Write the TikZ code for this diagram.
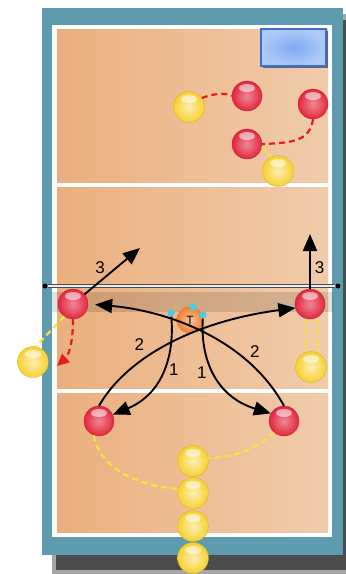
\documentclass[tikz,border=0pt]{standalone}
\usepackage{fontspec}
\setmainfont{Liberation Sans}
\usetikzlibrary{arrows.meta}

\definecolor{frameteal}{HTML}{5F9BAF}
\definecolor{courtleft}{HTML}{EBAF7E}
\definecolor{courtright}{HTML}{F0CCAC}
\definecolor{ballred}{HTML}{E3263E}
\definecolor{ballyellow}{HTML}{F7D02E}
\definecolor{dashyellow}{HTML}{F7E43A}
\definecolor{dashred}{HTML}{E81A1A}
\definecolor{setorange}{HTML}{EE7E2E}
\definecolor{dotcyan}{HTML}{3CD0EE}
\definecolor{boardblue}{HTML}{3D6CD6}
\definecolor{boardfill}{HTML}{B0CAF8}
\definecolor{boardmid}{HTML}{7EA8F2}

\begin{document}
\begin{tikzpicture}[x=1pt, y=-1pt,
    gloss/.style={path picture={\fill[white, opacity=0.55] ([yshift=8pt]path picture bounding box.center) ellipse (8pt and 4pt);}},
    redball/.style={circle, minimum size=30pt, inner sep=0pt, draw=ballred!80!black, line width=0.3pt,
      shading=radial, inner color=ballred!55!white, outer color=ballred, gloss},
    yellowball/.style={circle, minimum size=31pt, inner sep=0pt, draw=ballyellow!85!black, line width=0.3pt,
      shading=radial, inner color=ballyellow!35!white, outer color=ballyellow, gloss},
    cyandot/.style={circle, fill=dotcyan, minimum size=7pt, inner sep=0pt},
    netend/.style={circle, fill=black, minimum size=5pt, inner sep=0pt},
    runarrow/.style={line width=1.9pt, -{Triangle[length=17pt, width=14pt]}},
    reddash/.style={dashred, line width=2.2pt, dash pattern=on 6pt off 4pt},
    yellowdash/.style={dashyellow, line width=2.2pt, dash pattern=on 6pt off 4pt},
    lbl/.style={font=\fontsize{17}{19}\selectfont, inner sep=0pt}]
      \useasboundingbox[fill=white] (0,0) rectangle (346,574);

      % Court
      \fill[black!35] (52,14) rectangle (346,574);
      \fill[black!70] (56,20) rectangle (346,570);
      \fill[frameteal] (42,8) rectangle (343,555);
      \fill[white] (52,25) rectangle (332,537);
      \shade[left color=courtleft, right color=courtright] (57,29) rectangle (328,532);
      \fill[white] (57,183) rectangle (328,187);
      \fill[white] (57,389) rectangle (328,393);
      \fill[black!60] (263,31) rectangle (328,68);
      \shadedraw[inner color=boardmid, outer color=boardfill, draw=boardblue, line width=1.5pt] (261,29) rectangle (326,66);
      \fill[black, opacity=0.12] (52,292) rectangle (333,312);

      % Net
      \node[netend] at (45, 286) (netL) {};
      \node[netend] at (338, 286) (netR) {};
      \draw[black!70, line width=1.1pt, double=white!85!gray, double distance=2.4pt] (netL) -- (netR);

      % Nodes
      \node[yellowball] at (189, 107) (yA) {};
      \node[redball] at (247, 96) (rA) {};
      \node[redball] at (313, 104) (rC) {};
      \node[redball] at (247, 144) (rD) {};
      \node[yellowball] at (278, 171) (yB) {};

      \node[redball] at (73, 304) (rL) {};
      \node[redball] at (310, 304) (rR) {};
      \node[yellowball] at (33, 362) (yL) {};
      \node[yellowball] at (311, 367) (yR) {};
      \node[circle, minimum size=27pt, inner sep=0pt, shading=radial, inner color=setorange!45!white, outer color=setorange,
        font=\fontsize{12}{12}\selectfont] at (190, 320) (set) {T};
      \node[cyandot] at (171, 313) (c1) {};
      \node[cyandot] at (193, 307) (c2) {};
      \node[cyandot] at (203, 315) (c3) {};

      \node[redball] at (99, 421) (rBL) {};
      \node[redball] at (284, 421) (rBR) {};
      \node[yellowball] at (193, 461) (yQ1) {};
      \node[yellowball] at (193, 493) (yQ2) {};
      \node[yellowball] at (193, 526) (yQ3) {};
      \node[yellowball] at (193, 558) (yQ4) {};

      \coordinate (t3L) at (140, 248);
      \coordinate (t3R) at (310, 234);

      % Moves
      \draw[reddash] (yA.35) .. controls (212,94) and (225,92) .. (rA.west);
      \draw[reddash] (rC.south) .. controls (310,140) and (295,143) .. (rD.east);
      \draw[yellowdash] (rD.-10) -- (yB.115);
      \draw[yellowdash] (rL.235) -- (yL.80);
      \draw[reddash, -{Triangle[length=12pt, width=11pt]}] (rL.south) .. controls (73,345) and (68,356) .. (57,366);
      \draw[yellowdash] ([xshift=-4pt]rR.south) -- ([xshift=-4pt]yR.north);
      \draw[yellowdash] ([xshift=7pt]rR.south) -- ([xshift=7pt]yR.north);
      \draw[yellowdash] (rBL.250) .. controls (100,470) and (140,486) .. (yQ2.165);
      \draw[yellowdash] (rBR.230) .. controls (255,450) and (235,457) .. (yQ1.10);

      % Attack
      \draw[runarrow] (rL.40) -- (t3L) node[lbl, pos=0.4, above left=1pt] {3};
      \draw[runarrow] (rR.north) -- (t3R) node[lbl, pos=0.38, right=4pt] {3};
      \draw[runarrow] (rBL.north) .. controls (125,360) and (190,322) .. (rR.195) node[lbl, pos=0.4, above left=4pt] {2};
      \draw[runarrow, shorten >=7pt] (rBR.north) .. controls (245,335) and (160,310) .. (rL.east) node[lbl, pos=0.25, above right=2pt] {2};
      \draw[runarrow] (c1) .. controls (175,360) and (160,395) .. (rBL.25) node[lbl, pos=0.45, right=4.5pt] {1};
      \draw[runarrow] (c3) .. controls (200,365) and (220,398) .. (rBR.150) node[lbl, pos=0.45, left=6pt] {1};
    \end{tikzpicture}
\end{document}
